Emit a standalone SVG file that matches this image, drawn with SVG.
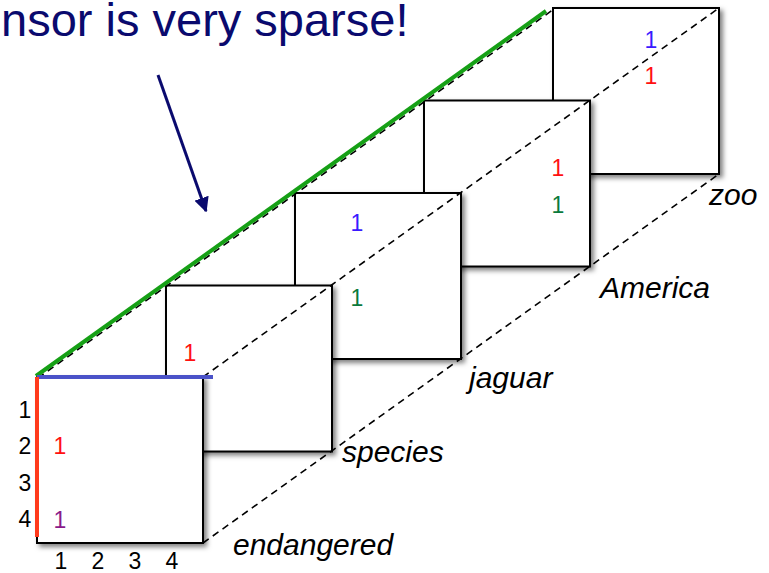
<svg xmlns="http://www.w3.org/2000/svg" width="769" height="573" viewBox="0 0 769 573">
<style>
.sq{fill:#fff;stroke:#000;stroke-width:2;filter:url(#sh)}
.dash{fill:none;stroke:#000;stroke-width:1.6;stroke-dasharray:7 5}
.lbl{font-family:"Liberation Sans",Arial,sans-serif;font-style:italic;font-size:30px;fill:#000}
.num{font-family:"Liberation Sans",Arial,sans-serif;font-size:23px;text-anchor:middle}
.k{fill:#000}.r{fill:#ff1010}.p{fill:#8a1a8a}.b{fill:#3a1aff}.g{fill:#0a7a3c}
</style>
<defs>
<filter id="sh" x="-10%" y="-10%" width="130%" height="130%">
<feDropShadow dx="3" dy="3" stdDeviation="2.5" flood-color="#000" flood-opacity="0.5"/>
</filter>
<marker id="ah" viewBox="0 0 10 10" refX="9" refY="5" markerWidth="5" markerHeight="5" orient="auto" markerUnits="strokeWidth">
<path d="M0,0 L10,5 L0,10 z" fill="#0a0a6e"/>
</marker>
</defs>
<text x="1" y="36" style="font-family:'Liberation Sans',Arial,sans-serif;font-size:47px;fill:#0a0a6e">nsor is very sparse!</text>
<line x1="158" y1="75" x2="206" y2="211" stroke="#0a0a6e" stroke-width="3" marker-end="url(#ah)"/>
<g id="slice-zoo">
<rect class="sq" x="553" y="8" width="166" height="166"/>
<text class="num b" x="651" y="48">1</text>
<text class="num r" x="651" y="84">1</text>
</g>
<g id="slice-america">
<rect class="sq" x="424" y="100.5" width="166" height="166"/>
<text class="num r" x="558" y="176">1</text>
<text class="num g" x="558" y="213">1</text>
</g>
<g id="slice-jaguar">
<rect class="sq" x="295" y="193" width="166" height="166"/>
<text class="num b" x="357" y="231">1</text>
<text class="num g" x="357" y="306">1</text>
</g>
<g id="slice-species">
<rect class="sq" x="166" y="285.5" width="166" height="166"/>
<text class="num r" x="190" y="361">1</text>
</g>
<g id="slice-endangered">
<rect class="sq" x="37" y="377" width="166" height="166"/>
<text class="num r" x="60" y="454">1</text>
<text class="num p" x="60" y="528">1</text>
</g>
<g id="connectors">
<line class="dash" x1="38" y1="378" x2="554" y2="9"/>
<line class="dash" x1="203" y1="377" x2="719" y2="8"/>
<line class="dash" x1="203" y1="543" x2="719" y2="174"/>
<line x1="36" y1="376" x2="546" y2="11" stroke="#16a016" stroke-width="4"/>
<line x1="37" y1="377" x2="213" y2="377" stroke="#4a52c8" stroke-width="4"/>
<line x1="37" y1="377" x2="37" y2="537" stroke="#ff3a1c" stroke-width="4"/>
</g>
<g id="axis-labels">
<text class="num k" x="25" y="418">1</text>
<text class="num k" x="25" y="454">2</text>
<text class="num k" x="25" y="491">3</text>
<text class="num k" x="25" y="527">4</text>
<text class="num k" x="61" y="569">1</text>
<text class="num k" x="98" y="569">2</text>
<text class="num k" x="135" y="569">3</text>
<text class="num k" x="172" y="569">4</text>
</g>
<text class="lbl" x="233" y="555">endangered</text>
<text class="lbl" x="342" y="462">species</text>
<text class="lbl" x="469" y="388">jaguar</text>
<text class="lbl" x="600" y="298">America</text>
<text class="lbl" x="709" y="205">zoo</text>
</svg>
